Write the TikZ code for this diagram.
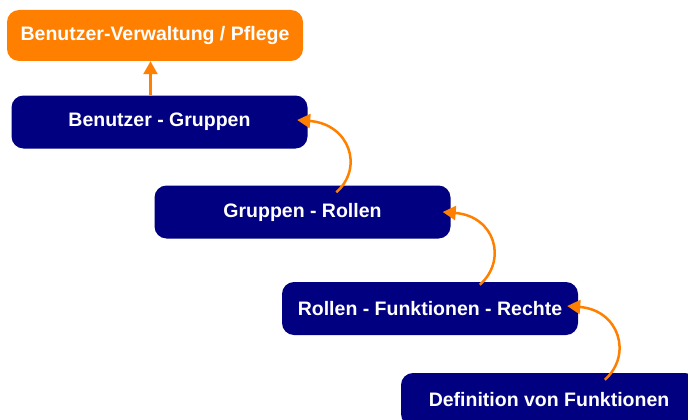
\documentclass[tikz,border=0pt]{standalone}
\usepackage{fontspec}
\setmainfont{Liberation Sans}
\usetikzlibrary{arrows.meta,calc}
\definecolor{navy}{HTML}{000080}
\definecolor{orng}{HTML}{FF7F00}
\begin{document}
\begin{tikzpicture}[x=1pt,y=1pt,
  box/.style={rounded corners=12pt, minimum width=296pt, minimum height=53pt, inner sep=0pt,
    text=white, font=\bfseries\fontsize{19.5}{22}\selectfont},
  navybox/.style={box, fill=navy},
  orbox/.style={box, fill=orng, minimum height=51pt},
  arr/.style={draw=orng, line width=2.5pt, -{Triangle[width=14pt,length=13pt]}}]
\useasboundingbox (0,0) rectangle (688,-420);
\clip (0,0) rectangle (688,-420);
\node[orbox]   (bv)  at (155,-35.5)   {Benutzer-Verwaltung / Pflege};
\node[navybox] (bg)  at (159.5,-122)  {Benutzer - Gruppen};
\node[navybox] (gr)  at (302.5,-212)  {Gruppen - Rollen};
\node[navybox] (rfr) at (430,-308.5)  {Rollen - Funktionen - Rechte};
\node[navybox] (def) at (549,-399.5)  {Definition von Funktionen};
\draw[arr] ([xshift=-9pt]bg.north) -- ([xshift=-9pt]bg.north |- bv.south);
\draw[arr] ($(gr.north west)+(182,-7)$) .. controls +(28,25) and +(52,-4) .. ($(bg.east)+(-10.5,2)$);
\draw[arr] ($(rfr.north west)+(198,-3)$) .. controls +(28,25) and +(52,-4) .. ($(gr.east)+(-8,0)$);
\draw[arr] ($(def.north west)+(204,-7)$) .. controls +(28,25) and +(52,-4) .. ($(rfr.east)+(-11,2.5)$);
\end{tikzpicture}
\end{document}
